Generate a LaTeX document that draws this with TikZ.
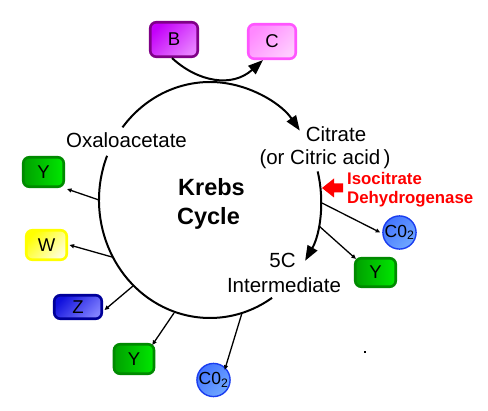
\documentclass[tikz,border=0pt]{standalone}
\usepackage{fontspec}
\setmainfont{Liberation Sans}
\usetikzlibrary{arrows.meta,calc}
\definecolor{purpD}{HTML}{800088}
\definecolor{purpA}{HTML}{C400FA}
\definecolor{purpB}{HTML}{E880FF}
\definecolor{pinkD}{HTML}{FF55FF}
\definecolor{pinkA}{HTML}{FF88FF}
\definecolor{pinkB}{HTML}{FFCCFF}
\definecolor{grnD}{HTML}{008A00}
\definecolor{grnA}{HTML}{00A000}
\definecolor{grnB}{HTML}{00E800}
\definecolor{yelD}{HTML}{FFFF00}
\definecolor{yelA}{HTML}{FFFF00}
\definecolor{yelB}{HTML}{FFFFD8}
\definecolor{bluD}{HTML}{000099}
\definecolor{bluA}{HTML}{1010DD}
\definecolor{bluB}{HTML}{8080FF}
\definecolor{coD}{HTML}{1A3DF0}
\definecolor{coA}{HTML}{4475FF}
\definecolor{coB}{HTML}{70A8FF}
\begin{document}
\begin{tikzpicture}[x=1pt,y=-1pt,
  rbox/.style={rounded corners=6pt, line width=2.6pt, inner sep=0pt,
    font=\fontsize{18.5}{18.5}\selectfont},
  diag/.style 2 args={top color=#1, bottom color=#2, shading angle=45},
  cobox/.style={circle, line width=1.4pt, draw=coD, inner sep=0pt,
    minimum size=31.5pt, top color=coA, bottom color=coB, shading angle=45,
    font=\fontsize{17.5}{17.5}\selectfont},
  lbl/.style={anchor=base, inner sep=0pt, font=\fontsize{20.5}{20.5}\selectfont},
  sarrow/.style={line width=1.3pt, -{Triangle[length=4.5pt,width=4pt]}},
  red lbl/.style={anchor=base west, inner sep=0pt, text=red,
    font=\bfseries\fontsize{16.8}{16.8}\selectfont}
]
\path[use as bounding box] (0,0) rectangle (488,411);

% centre of the cycle
\coordinate (O) at (210,200);

% main arcs
\draw[line width=2pt, -{Triangle[length=15pt,width=11pt]}]
  ($(O)+(-142:111 and 118)$) arc[start angle=-142, end angle=-36, x radius=111, y radius=118];
\draw[line width=2pt, -{Triangle[length=15pt,width=11pt]}]
  ($(O)+(-14:111 and 118)$) arc[start angle=-14, end angle=31, x radius=111, y radius=118];
\draw[line width=2pt]
  ($(O)+(-158:111 and 118)$) arc[start angle=-158, end angle=-304, x radius=111, y radius=118];

% boxes
\node[rbox, draw=purpD, diag={purpA}{purpB}, minimum width=47.5pt, minimum height=34.5pt] (B) at (174,39.5) {B};
\node[rbox, draw=pinkD, diag={pinkA}{pinkB}, minimum width=47.5pt, minimum height=34.5pt] (C) at (272,41.5) {C};
\node[rbox, draw=grnD, left color=grnA, right color=grnB, minimum width=40.5pt, minimum height=29.5pt] (Y1) at (43.5,172) {Y};
\node[rbox, draw=yelD, diag={yelA}{yelB}, minimum width=40.5pt, minimum height=29.5pt] (W) at (46.5,245) {W};
\node[rbox, draw=bluD, diag={bluA}{bluB}, minimum width=47.5pt, minimum height=23.5pt] (Z) at (78,307) {Z};
\node[rbox, draw=grnD, left color=grnA, right color=grnB, minimum width=40pt, minimum height=29.5pt] (Y2) at (134,359) {Y};
\node[rbox, draw=grnD, left color=grnA, right color=grnB, minimum width=40.5pt, minimum height=28.5pt] (Y3) at (375.5,272.5) {Y};
\node[cobox] (CO1) at (399.5,232.5) {C0\textsubscript{2}};
\node[cobox] (CO2) at (213.5,380) {C0\textsubscript{2}};

% B -> C
\draw[line width=2pt, -{Triangle[length=15pt,width=11pt]}]
  ([xshift=-2pt]B.south) .. controls (198,82) and (232,88) .. ([xshift=-9pt]C.south);

% labels
\node[lbl] (oxa) at (126.5,148) {Oxaloacetate};
\node[lbl] (cit) at (336,142) {Citrate};
\node[lbl] (cit2) at (325,165) {(or Citric acid\,)};
\node[lbl] (fivec) at (282.5,268) {5C};
\node[lbl] (inter) at (284,293) {Intermediate};
\node[anchor=base, inner sep=0pt, font=\bfseries\fontsize{23.5}{23.5}\selectfont] (krebs) at (211.5,196) {Krebs};
\node[anchor=base, inner sep=0pt, font=\bfseries\fontsize{23.5}{23.5}\selectfont] (cycle) at (208.5,225) {Cycle};
\node[red lbl] (iso) at (347,185) {Isocitrate};
\node[red lbl] (dehyd) at (347,203.5) {Dehydrogenase};

% red block arrow
\fill[red] (322,188) -- (334,178.5) -- (334,183.5) -- (343,183.5) -- (343,192.5)
  -- (334,192.5) -- (334,197.5) -- cycle;

% branch points on the cycle
\coordinate (pY1) at (99,200);
\coordinate (pW) at (112,257);
\coordinate (pZ) at (133,286);
\coordinate (pY2) at (174,313);
\coordinate (pCO2) at (242,313);
\coordinate (pCO1) at (322,203);
\coordinate (pY3) at (319,226);

\draw[sarrow] (pY1) -- ([xshift=2pt,yshift=-1pt]Y1.south east);
\draw[sarrow] (pW) -- ([xshift=1.5pt]W.east);
\draw[sarrow] (pZ) -- ([xshift=1.5pt,yshift=-3pt]Z.east);
\draw[sarrow] (pY2) -- ([xshift=-3pt,yshift=-2pt]Y2.north east);
\draw[sarrow] (pCO2) -- ([xshift=-1pt,yshift=-2pt]CO2.north east);
\draw[sarrow] (pCO1) -- ([xshift=-2pt]CO1.west);
\draw[sarrow] (pY3) -- ([xshift=2pt,yshift=-2pt]Y3.north west);

% stray dot
\fill (363.5,351) rectangle (365.5,353);
\end{tikzpicture}
\end{document}
